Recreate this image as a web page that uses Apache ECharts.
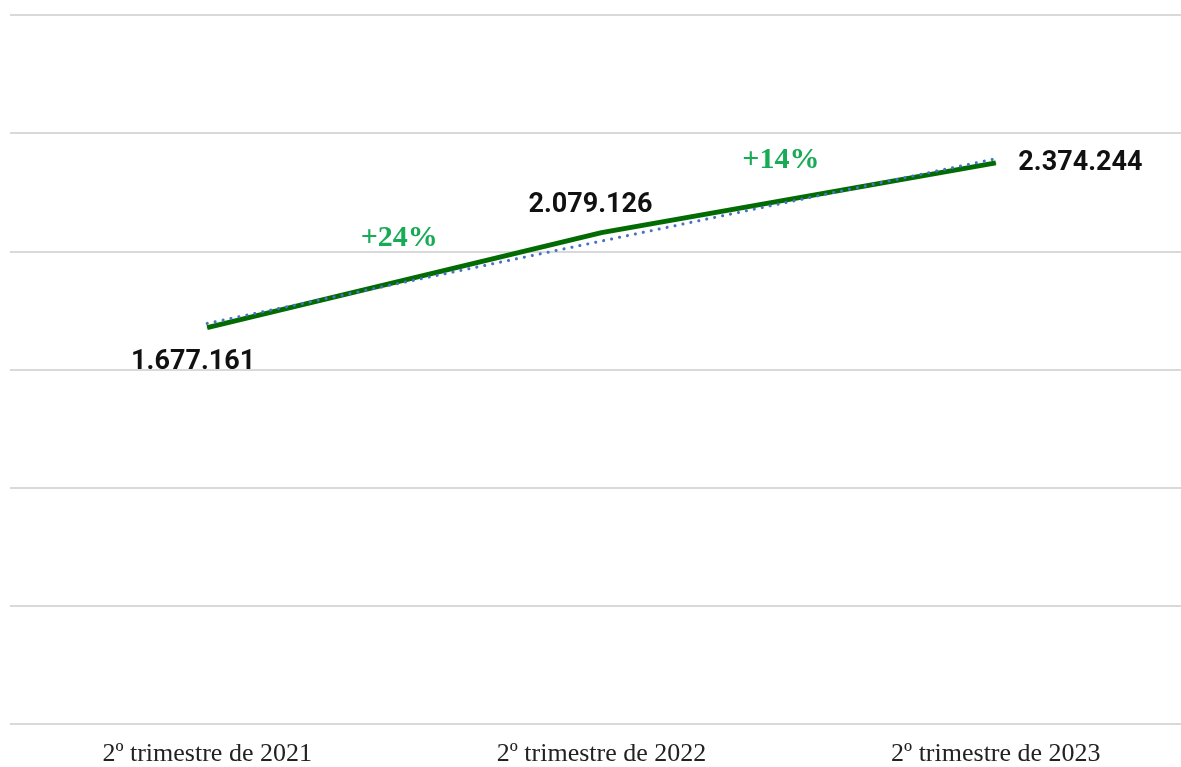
<!DOCTYPE html>
<html>
<head>
<meta charset="utf-8">
<script src="https://cdn.jsdelivr.net/npm/echarts@6/dist/echarts.min.js"></script>
<style>
html, body { margin: 0; padding: 0; background: #fff; overflow: hidden; }
#chart { width: 1193px; height: 767px; }
</style>
</head>
<body>
<div id="chart"></div>
<script>
// data
var categories = ['2º trimestre de 2021', '2º trimestre de 2022', '2º trimestre de 2023'];
var totals = [1677161, 2079126, 2374244];
var trend = [1695000, 2043500, 2392000];
var growthLabels = ['+24%', '+14%'];
var growthPos = [[0.487, 2055000], [1.455, 2385000]];
var labelPos = ['bottom', 'top', 'right'];

function fmt(v) {
    return String(v).replace(/\B(?=(\d{3})+(?!\d))/g, '.');
}

var dom = document.getElementById("chart");
var myChart = echarts.init(dom);
var option = {
    animation: false,
    grid: {
        left: 10,
        right: 0,
        top: 15,
        bottom: 40
    },
    xAxis: [
        {
            type: 'category',
            data: categories,
            boundaryGap: true,
            axisLine: { show: false },
            axisTick: { show: false },
            axisLabel: {
                margin: 17,
                fontFamily: '"Liberation Serif", "Times New Roman", serif',
                fontSize: 26,
                color: '#222'
            }
        },
        {
            type: 'value',
            min: -0.5,
            max: 2.5,
            show: false
        }
    ],
    yAxis: {
        type: 'value',
        min: 0,
        max: 3000000,
        interval: 500000,
        axisLabel: { show: false },
        axisLine: { show: false },
        axisTick: { show: false },
        splitLine: { lineStyle: { color: '#d9d9d9', width: 2 } }
    },
    series: [
        {
            name: 'Total',
            type: 'line',
            data: totals.map(function (v, i) {
                return {
                    value: v,
                    label: {
                        position: labelPos[i],
                        distance: i === 0 ? 21 : (i === 1 ? 13 : 22),
                        offset: i === 0 ? [-14, 0] : (i === 1 ? [-11, 0] : [0, 0])
                    }
                };
            }),
            symbol: 'circle',
            symbolSize: 1,
            showSymbol: true,
            itemStyle: { color: '#036b03' },
            lineStyle: { color: '#036b03', width: 5 },
            label: {
                show: true,
                formatter: function (p) { return fmt(p.value); },
                fontFamily: 'Roboto, sans-serif',
                fontWeight: 'bold',
                fontSize: 27,
                color: '#111'
            },
            z: 3
        },
        {
            name: 'Tendencia',
            type: 'line',
            data: trend,
            symbol: 'none',
            lineStyle: { color: '#4472c4', width: 3, type: [0.1, 8], cap: 'round' },
            z: 4
        },
        {
            name: 'Crecimiento',
            type: 'scatter',
            xAxisIndex: 1,
            data: growthPos,
            symbolSize: 1,
            itemStyle: { color: 'transparent', opacity: 1 },
            label: {
                show: true,
                position: 'inside',
                formatter: function (p) { return growthLabels[p.dataIndex]; },
                fontFamily: '"Liberation Serif", "Times New Roman", serif',
                fontWeight: 'bold',
                fontSize: 30,
                color: '#17ab55',
                textBorderWidth: 0
            },
            z: 5
        }
    ]
};
if (option && typeof option === "object") {
    myChart.setOption(option, true);
}
</script>
</body>
</html>
